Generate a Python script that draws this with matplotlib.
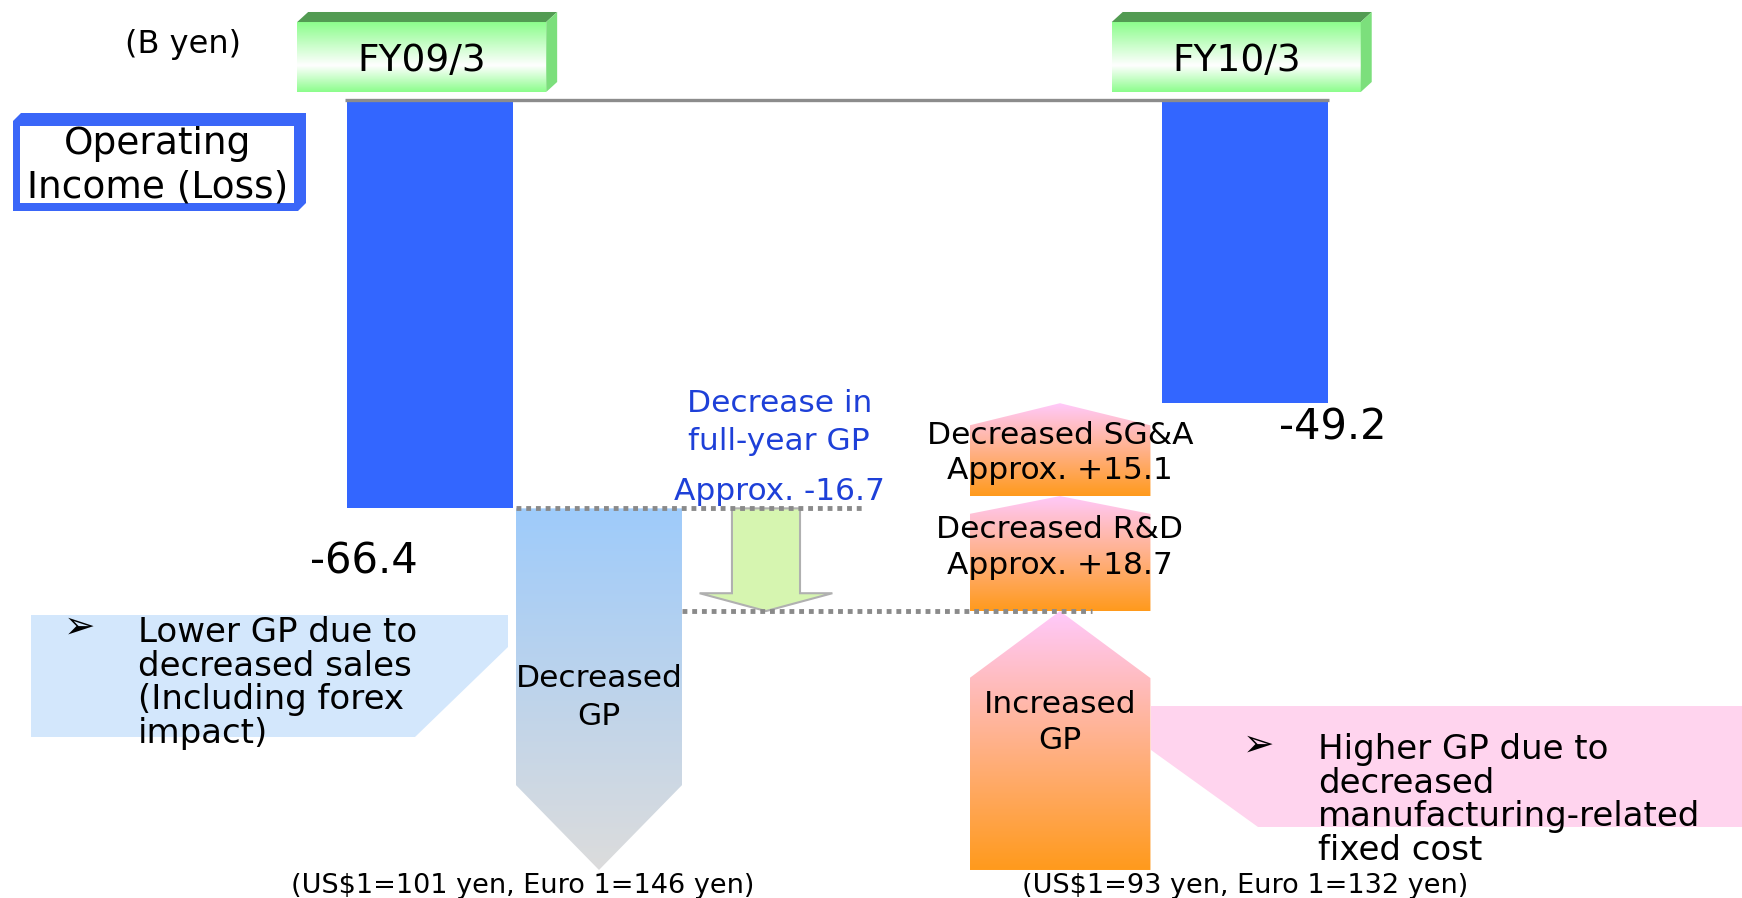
import numpy as np
import matplotlib.pyplot as plt
from matplotlib.patches import Polygon
from matplotlib.colors import LinearSegmentedColormap

# Operating income bridge, B yen
periods = ["FY09/3", "FY10/3"]
operating_income = [-66.4, -49.2]
full_year_gp = -16.7
# gross GP moves have no printed value
gp_decrease = -58.8
gp_increase = 42.1
rd_saving = 18.7
sga_saving = 15.1
fx_notes = ["(US$1=101 yen, Euro 1=146 yen)", "(US$1=93 yen, Euro 1=132 yen)"]

W, H = 1742, 898
BLUE = '#3366ff'
GREEN_BOX = [(0, '#8cfd8c'), (0.38, 'white'), (1, '#8cfd8c')]
PINK_ORANGE = ['#ff9a1c', '#ffc9fb']
BLUE_GREY = ['#dcdcdc', '#9ecbfb']


def gradient_fill(ax, verts, colors, zorder=2):
    shape = Polygon(verts, closed=True, facecolor='none', edgecolor='none', zorder=zorder)
    ax.add_patch(shape)
    xs = [v[0] for v in verts]
    ys = [v[1] for v in verts]
    cmap = LinearSegmentedColormap.from_list('fill', colors)
    img = ax.imshow(np.linspace(0, 1, 256).reshape(-1, 1), cmap=cmap, origin='lower',
                    aspect='auto', interpolation='bilinear', zorder=zorder,
                    extent=(min(xs), max(xs), min(ys), max(ys)))
    img.set_clip_path(shape)


def down_arrow(c, w, top, tip, head):
    return [(c - w / 2, top), (c + w / 2, top), (c + w / 2, tip + head), (c, tip), (c - w / 2, tip + head)]


def up_arrow(c, w, bottom, tip, head):
    return [(c - w / 2, bottom), (c + w / 2, bottom), (c + w / 2, tip - head), (c, tip), (c - w / 2, tip - head)]


fig = plt.figure(figsize=(W / 100, H / 100), dpi=100)

# pixel-space layer for the callouts and notes
deco = fig.add_axes([0, 0, 1, 1])
deco.set_xlim(0, W)
deco.set_ylim(H, 0)
deco.axis('off')

ax = fig.add_axes([0, 0, 1, 1])
ax.patch.set_alpha(0)
ax.axis('off')

# layout (x in bar widths, y in B yen)
bar_x = [0, 4.907]
dec_x, green_x, inc_x = 1.018, 2.024, 3.795
inc_w = 1.09

# waterfall levels
start = operating_income[0]
dec_bottom = start + gp_decrease
after_gp = start + full_year_gp
inc_top = dec_bottom + gp_increase
rd_top = inc_top + rd_saving
sga_top = rd_top + sga_saving

# operating income bars
ax.bar(bar_x, operating_income, width=1.0, color=BLUE, zorder=2)
ax.hlines(0, bar_x[0] - 0.512, bar_x[1] + 0.51, color='#8c8c8c', lw=2.4, zorder=3)
for x, v, dx, dy in zip(bar_x, operating_income, [-0.4, 0.53], [-8.6, -4.1]):
    ax.text(x + dx, v + dy, f"{v:.1f}", fontsize=30, ha='center', va='center')

# period headers (3d green boxes)
for x, label in zip(bar_x, periods):
    x0, x1 = x - 0.8, x + 0.7
    y0, y1 = 1.3, 12.68
    dx, dy = 0.066, 1.63
    gradient_fill(ax, [(x0, y0), (x1, y0), (x1, y1), (x0, y1)], GREEN_BOX, zorder=4)
    ax.add_patch(Polygon([(x0, y1), (x0 + dx, y1 + dy), (x1 + dx, y1 + dy), (x1, y1)],
                         facecolor='#529b52', edgecolor='none', zorder=4))
    ax.add_patch(Polygon([(x1, y1), (x1 + dx, y1 + dy), (x1 + dx, y0 + dy), (x1, y0)],
                         facecolor='#7cdf7c', edgecolor='none', zorder=4))
    ax.text((x0 + x1) / 2, (y0 + y1) / 2 - 0.7, label, fontsize=27, ha='center', va='center', zorder=5)

# decreased GP
gradient_fill(ax, down_arrow(dec_x, 1.0, start, dec_bottom, 13.8), BLUE_GREY)
ax.text(dec_x, (start + dec_bottom) / 2 - 1.3, "Decreased\nGP", fontsize=22.5, ha='center', va='center',
        linespacing=1.4, zorder=5)

# increased GP, R&D, SG&A
gradient_fill(ax, up_arrow(inc_x, inc_w, dec_bottom, inc_top, 10.9), PINK_ORANGE)
gradient_fill(ax, up_arrow(inc_x, inc_w, inc_top, rd_top, 2.9), PINK_ORANGE)
gradient_fill(ax, up_arrow(inc_x, inc_w, rd_top, sga_top, 3.6), PINK_ORANGE)
ax.text(inc_x, (dec_bottom + inc_top) / 2 + 3.0, "Increased\nGP", fontsize=22.5, ha='center', va='center',
        linespacing=1.3, zorder=5)
ax.text(inc_x, (inc_top + rd_top) / 2 + 1.0, f"Decreased R&D\nApprox. {rd_saving:+.1f}", fontsize=22.5,
        ha='center', va='center', linespacing=1.3, zorder=5)
ax.text(inc_x, (rd_top + sga_top) / 2 - 0.6, f"Decreased SG&A\nApprox. {sga_saving:+.1f}", fontsize=22.5,
        ha='center', va='center', linespacing=1.25, zorder=5)

# full-year GP change
ax.add_patch(Polygon([(green_x - 0.205, start), (green_x + 0.205, start), (green_x + 0.205, after_gp + 2.9),
                      (green_x + 0.4, after_gp + 2.9), (green_x, after_gp), (green_x - 0.4, after_gp + 2.9),
                      (green_x - 0.205, after_gp + 2.9)],
                     facecolor='#d6f5b0', edgecolor='#b0b0b0', lw=1.5, zorder=2))
ax.hlines(start, dec_x - 0.5, green_x + 0.59, color='#8a8a8a', lw=3.5, linestyles=(0, (1, 1)), zorder=3)
ax.hlines(after_gp, dec_x + 0.5, inc_x + 0.19, color='#8a8a8a', lw=3.5, linestyles=(0, (1, 1)), zorder=3)
ax.text(green_x + 0.08, start + 13.9, "Decrease in\nfull-year GP", fontsize=22.5, color='#1e40d8',
        ha='center', va='center', linespacing=1.4)
ax.text(green_x + 0.08, start + 2.7, f"Approx. {full_year_gp:.1f}", fontsize=22.5, color='#1e40d8',
        ha='center', va='center')

ax.set_xlim(-430 / 166, (W - 430) / 166)
ax.set_ylim(-(H - 100) / 6.15, 100 / 6.15)

# unit and title box
deco.text(183, 44, "(B yen)", fontsize=23, ha='center', va='center')
deco.add_patch(Polygon([(21, 113), (306, 113), (306, 203), (298, 211), (13, 211), (13, 121)],
                       facecolor='#3a66f8', edgecolor='none'))
deco.add_patch(Polygon([(20, 126), (294, 126), (294, 203), (20, 203)], facecolor='white', edgecolor='none'))
deco.text(158, 166, "Operating\nIncome (Loss)", fontsize=27, ha='center', va='center', linespacing=1.28)

# callouts
deco.add_patch(Polygon([(31, 615), (508, 615), (508, 647), (415, 737), (31, 737)],
                       facecolor='#d3e7fc', edgecolor='none'))
deco.text(80, 628, "\u27a2", fontsize=27, ha='center', va='center')
deco.text(138, 616, "Lower GP due to\ndecreased sales\n(Including forex\nimpact)", fontsize=24.5,
          ha='left', va='top', linespacing=1.02)

deco.add_patch(Polygon([(1151, 706), (W, 706), (W, 827), (1258, 827), (1151, 750)],
                       facecolor='#ffd4ee', edgecolor='none'))
deco.text(1259, 746, "\u27a2", fontsize=27, ha='center', va='center')
deco.text(1318, 733, "Higher GP due to\ndecreased\nmanufacturing-related\nfixed cost", fontsize=24.5,
          ha='left', va='top', linespacing=1.02)

# exchange rates
for x, note in zip([523, 1245], fx_notes):
    deco.text(x, 886, note, fontsize=19.5, ha='center', va='center')

fig.savefig('out.png', dpi=100)
